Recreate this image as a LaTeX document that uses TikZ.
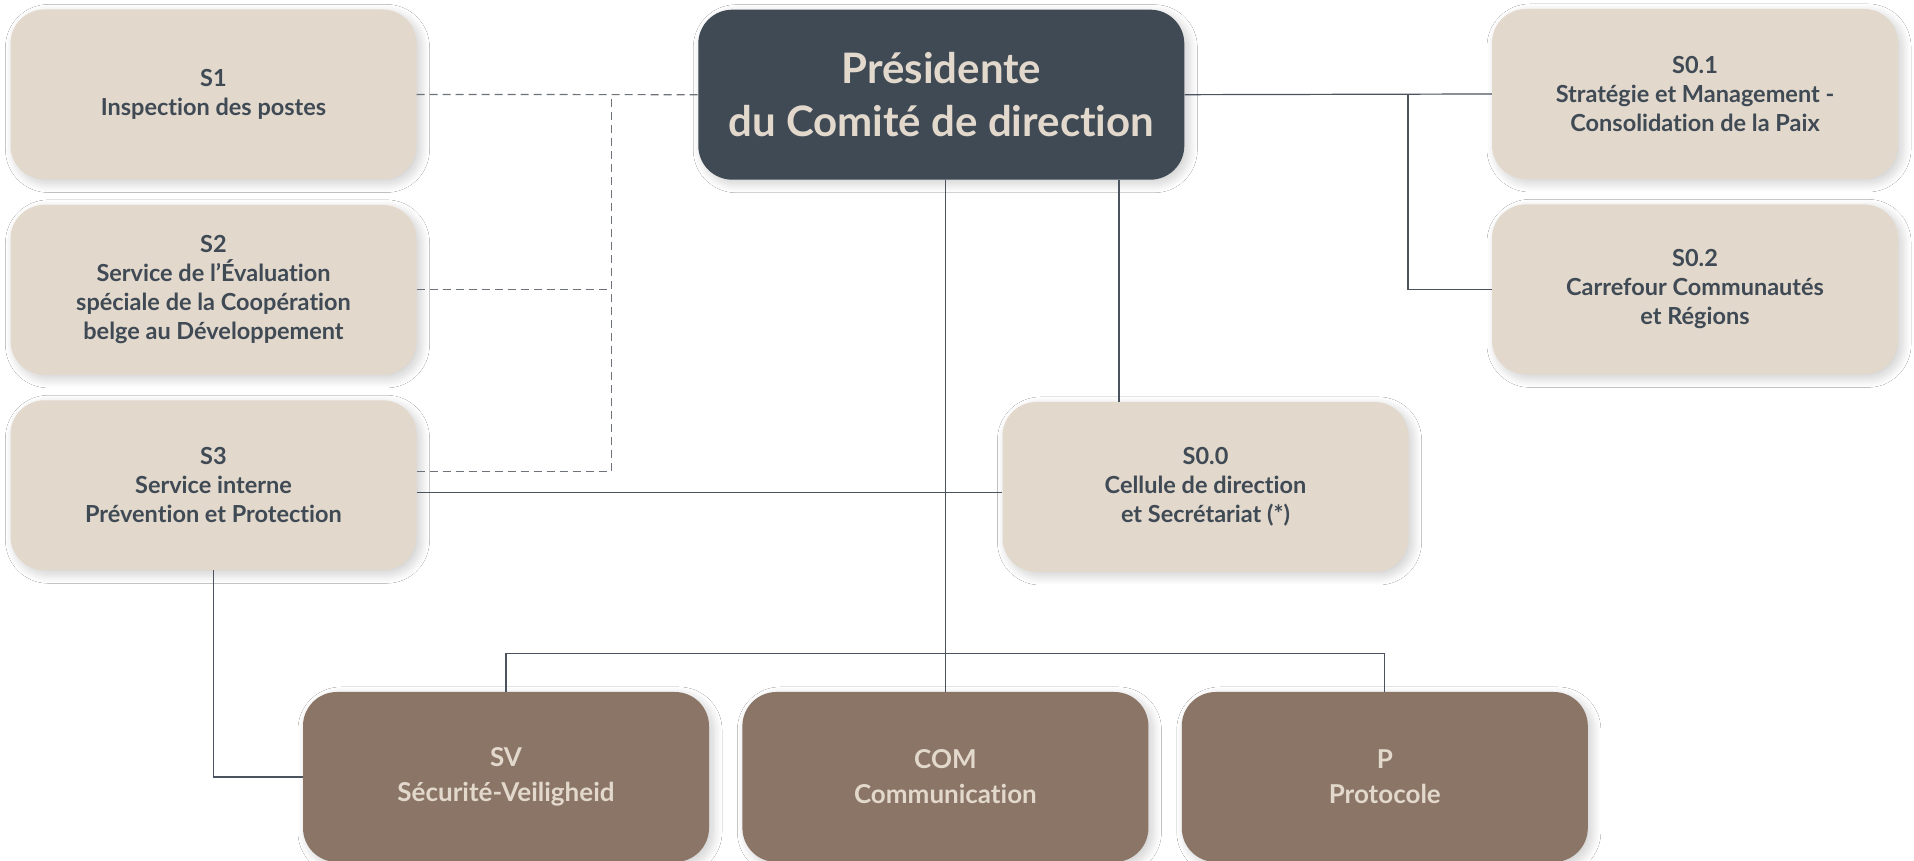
\documentclass[tikz,border=0pt]{standalone}
\usepackage{fontspec}
\setmainfont{Lato}[Ligatures=NoCommon]
\usetikzlibrary{positioning,shadows.blur}
\definecolor{beige}{HTML}{E2D8CC}
\definecolor{slate}{HTML}{3F4A55}
\definecolor{taupe}{HTML}{8A7566}
\definecolor{linecol}{HTML}{4A535E}
\definecolor{dashcol}{HTML}{6E737A}
\begin{document}
\begin{tikzpicture}[x=1pt, y=1pt, node distance=25pt,
    box/.style={rectangle, rounded corners=34pt, minimum width=406pt, minimum height=170pt,
        align=center, inner sep=2pt,
        blur shadow={shadow xshift=4pt, shadow yshift=-4pt, shadow blur radius=9pt, shadow blur steps=24, shadow opacity=20}},
    unit/.style={box, fill=beige, text=slate, font=\bfseries\fontsize{23.5}{29}\selectfont},
    head/.style={box, fill=slate, text=beige, minimum width=486pt, font=\bfseries\fontsize{42}{53}\selectfont},
    office/.style={box, fill=taupe, text=beige, font=\bfseries\fontsize{26}{35}\selectfont},
    link/.style={draw=linecol, line width=1.2pt},
    dashlink/.style={draw=dashcol, line width=1.2pt, dash pattern=on 8pt off 5pt}]
    \useasboundingbox[fill=white] (0,0) rectangle (1914,861);

    % left column
    \node[unit] (S1) at (213.5,766.5) {S1\\Inspection des postes};
    \node[unit] (S2) [below=of S1] {S2\\Service de l’Évaluation\\spéciale de la Coopération\\belge au Développement};
    \node[unit] (S3) [below=of S2] {S3\\Service interne\\Prévention et Protection};

    % top
    \node[head] (Pres) at (941.3,766.3) {Présidente\\du Comité de direction};

    % right column
    \node[unit] (S01) at (1695,767) {S0.1\\Stratégie et Management -\\Consolidation de la Paix};
    \node[unit] (S02) [below=of S01] {S0.2\\Carrefour Communautés\\et Régions};
    \node[unit] (S00) at (1205.5,374) {S0.0\\Cellule de direction\\et Secrétariat (*)};

    % bottom row
    \node[office] (SV) at (506,84) {SV\\Sécurité-Veiligheid};
    \node[office] (COM) [right=33pt of SV] {COM\\Communication};
    \node[office] (P) [right=33pt of COM] {P\\Protocole};

    \coordinate (dj) at (611.6,766.5);
    \coordinate (rj) at (1408,767);
    \coordinate (bus) at (944,207.7);
    \coordinate (sj) at (1119,0);

    % dashed links
    \draw[dashlink] (S1.east) -- (Pres.west);
    \draw[dashlink] ([yshift=14pt]S3.east) -| (dj);
    \draw[dashlink] (S2.east) -- (S2.east -| dj);

    % solid links
    \draw[link] ([yshift=-7pt]S3.east) -- ([yshift=-7pt]S3.east -| S00.west);
    \draw[link] (Pres.east) -- (S01.west);
    \draw[link] (rj) |- (S02.west);
    \draw[link] (Pres.south -| sj) -- (S00.north -| sj);
    \draw[link] (COM.north |- Pres.south) -- (COM.north);
    \draw[link] (SV.north) |- (bus) -| (P.north);
    \draw[link] (S3.south) |- (SV.west);
\end{tikzpicture}
\end{document}
